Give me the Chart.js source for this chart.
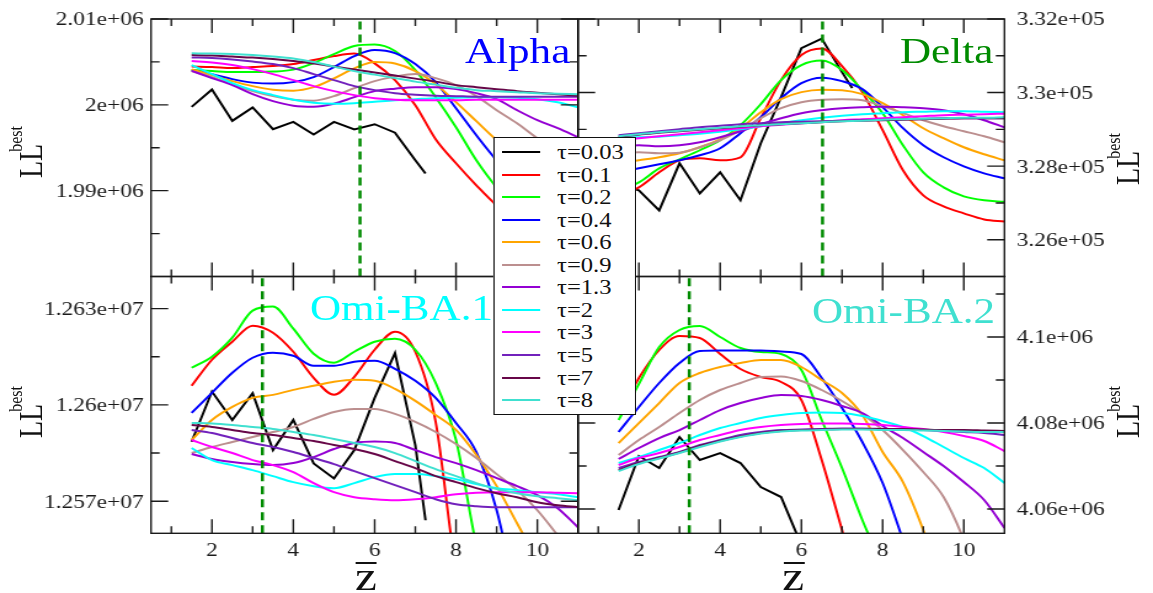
<!DOCTYPE html>
<html>
<head>
<meta charset="utf-8">
<script src="https://cdn.jsdelivr.net/npm/chart.js@4.4.1/dist/chart.umd.min.js"></script>
<style>
html,body{margin:0;padding:0;background:#fff;overflow:hidden;width:1153px;height:593px;}
#stage{position:absolute;left:0;top:0;width:937px;height:593px;transform:scaleX(1.23052);transform-origin:0 0;}
#stage canvas{position:absolute;left:0;top:0;}
.t{position:absolute;font-family:'Liberation Serif','Times New Roman',serif;white-space:nowrap;}
#legend{position:absolute;left:400.6px;top:137px;width:116.3px;height:278px;box-sizing:border-box;background:#fff;border-style:solid;border-color:#111;border-width:1.5px 1.2px;}
.lgLine{position:absolute;height:2px;}
.ytitle{position:absolute;font-family:'Liberation Serif','Times New Roman',serif;white-space:nowrap;line-height:28px;transform:translate(-50%,-50%) rotate(-90deg);color:#111;}
.bar{position:absolute;height:0;border-top:2px solid #111;}
</style>
</head>
<body>
<div id="stage">
  <canvas id="cTL" width="937" height="593"></canvas>
  <canvas id="cTR" width="937" height="593"></canvas>
  <canvas id="cBL" width="937" height="593"></canvas>
  <canvas id="cBR" width="937" height="593"></canvas>
</div>
<script>
// ---------------- data ----------------
const zGrid = [1.5, 2, 2.5, 3, 3.5, 4, 4.5, 5, 5.5, 6, 6.5, 7, 7.5, 8, 8.5, 9, 9.5, 10, 10.5, 11];
const xTickLabels = [2, 4, 6, 8, 10];
const xMinorTicks = [1, 3, 5, 7, 9];
const tauLabels = ['τ=0.03', 'τ=0.1', 'τ=0.2', 'τ=0.4', 'τ=0.6', 'τ=0.9', 'τ=1.3', 'τ=2', 'τ=3', 'τ=5', 'τ=7', 'τ=8'];
const tauColors = ['#000000', '#ff0000', '#00ff00', '#0000ff', '#ffa500', '#bc8f8f', '#9400d3', '#00ffff', '#ff00ff', '#7221bc', '#670748', '#40e0d0'];
const panelNames = ['Alpha', 'Delta', 'Omi-BA.1', 'Omi-BA.2'];

// Alpha
const alphaBlackZ = [1.5, 2, 2.5, 3, 3.5, 4, 4.5, 5, 5.5, 6, 6.5, 7, 7.25];
const alphaT003 = [1999760, 2001790, 1998130, 1999690, 1997160, 1998010, 1996540, 1998010, 1997130, 1997740, 1996750, 1993540, 1991990];
const alphaT01 = [2004455, 2004397, 2004280, 2004397, 2004514, 2004747, 2005214, 2005681, 2005973, 2004830, 2002879, 1999961, 1995992, 1993191, 1990623, 1988288, 1986537, 1984787, 1983269, 1982102];
const alphaT02 = [2004047, 2003930, 2003813, 2003813, 2003871, 2004105, 2004864, 2005914, 2006848, 2007023, 2006265, 2004047, 2000895, 1997393, 1993541, 1990389, 1988055, 1986304, 1985020, 1984203];
const alphaT04 = [2004047, 2003580, 2002996, 2002588, 2002471, 2002646, 2003230, 2004397, 2005681, 2006381, 2006031, 2004747, 2002646, 1999611, 1996460, 1993541, 1991206, 1989456, 1988055, 1987121];
const alphaT06 = [2004129, 2003463, 2002763, 2002179, 2001770, 2001654, 2002062, 2003078, 2004245, 2004981, 2004806, 2003930, 2002412, 2000311, 1998093, 1995876, 1993892, 1992374, 1991206, 1990273];
const alphaT09 = [2003930, 2003230, 2002412, 2001595, 2001012, 2000603, 2000487, 2001012, 2001946, 2002763, 2003288, 2003580, 2003113, 2002296, 2001012, 1999378, 1997860, 1996110, 1994708, 1993307];
const alphaT13 = [2003965, 2003113, 2002296, 2001245, 2000428, 1999903, 1999786, 2000136, 2000895, 2001595, 2001887, 2002062, 2002062, 2001829, 2001362, 2000662, 1999378, 1998210, 1997276, 1996227];
const alphaT2 = [2004631, 2003580, 2002529, 2001712, 2001129, 2000603, 2000253, 2000136, 2000195, 2000370, 2000545, 2000662, 2000778, 2000837, 2000895, 2000895, 2000837, 2000662, 2000311, 1999728];
const alphaT3 = [2005097, 2004922, 2004631, 2004164, 2003580, 2002879, 2002179, 2001595, 2001129, 2000778, 2000603, 2000545, 2000545, 2000545, 2000603, 2000603, 2000603, 2000603, 2000603, 2000603];
const alphaT5 = [2005529, 2005447, 2005272, 2005039, 2004747, 2004280, 2003580, 2002879, 2002179, 2001712, 2001362, 2001187, 2001070, 2001012, 2000953, 2000953, 2000953, 2000953, 2000953, 2000953];
const alphaT7 = [2005798, 2005740, 2005623, 2005506, 2005331, 2005097, 2004806, 2004455, 2004105, 2003755, 2003405, 2003054, 2002704, 2002296, 2002062, 2001829, 2001595, 2001420, 2001245, 2001070];
const alphaT8 = [2005996, 2005973, 2005914, 2005798, 2005623, 2005389, 2004981, 2004455, 2003930, 2003521, 2003113, 2002704, 2002354, 2002004, 2001712, 2001595, 2001479, 2001362, 2001304, 2001245];
const alphaYTicks = [1990000, 2000000, 2010000];
const alphaYMinor = [1985000, 1995000, 2005000];
const alphaMarkZ = 5.64;

// Delta
const deltaBlackZ = [1.5, 2, 2.5, 3, 3.5, 4, 4.5, 5, 5.5, 6, 6.5, 7, 7.25];
const deltaT003 = [327478, 327342, 326797, 328077, 327260, 327832, 327070, 328622, 329875, 331210, 331469, 330556, 330120];
const deltaT01 = [327206, 327424, 327832, 328159, 328214, 328159, 328241, 329303, 330338, 331019, 331196, 330720, 330012, 328977, 327887, 327206, 326906, 326716, 326552, 326498];
const deltaT02 = [327342, 327560, 327941, 328186, 328432, 328704, 329113, 329685, 330338, 330747, 330870, 330611, 330066, 329440, 328568, 327832, 327424, 327179, 327070, 327029];
const deltaT04 = [327832, 327941, 328050, 328159, 328295, 328486, 328895, 329331, 329848, 330257, 330406, 330311, 330093, 329603, 329031, 328568, 328241, 327996, 327805, 327669];
const deltaT06 = [328077, 328159, 328241, 328350, 328513, 328731, 329031, 329467, 329821, 330012, 330080, 330066, 329957, 329712, 329385, 329031, 328759, 328513, 328323, 328159];
const deltaT09 = [328350, 328377, 328350, 328364, 328513, 328704, 328977, 329303, 329576, 329739, 329807, 329821, 329794, 329630, 329440, 329249, 329085, 328949, 328813, 328650];
const deltaT13 = [328540, 328568, 328540, 328568, 328650, 328786, 328949, 329140, 329303, 329440, 329521, 329576, 329603, 329617, 329603, 329576, 329521, 329412, 329249, 329058];
const deltaT2 = [328786, 328786, 328799, 328840, 328881, 328936, 329004, 329085, 329167, 329249, 329317, 329371, 329412, 329440, 329467, 329480, 329494, 329494, 329480, 329467];
const deltaT3 = [328704, 328759, 328813, 328868, 328922, 328977, 329031, 329085, 329126, 329167, 329208, 329249, 329276, 329303, 329331, 329358, 329385, 329399, 329412, 329426];
const deltaT5 = [328840, 328895, 328949, 329004, 329058, 329099, 329140, 329167, 329194, 329208, 329222, 329235, 329249, 329262, 329276, 329290, 329303, 329303, 329303, 329303];
const deltaT7 = [328799, 328854, 328908, 328949, 328990, 329031, 329072, 329113, 329140, 329167, 329194, 329222, 329235, 329249, 329262, 329276, 329290, 329303, 329303, 329303];
const deltaT8 = [328813, 328868, 328922, 328963, 329004, 329045, 329085, 329113, 329140, 329167, 329194, 329222, 329235, 329262, 329276, 329290, 329303, 329317, 329317, 329331];
const deltaYTicks = [326000, 328000, 330000, 332000];
const deltaYMinor = [327000, 329000, 331000];
const deltaMarkZ = 6.52;

// Omi-BA.1
const ba1BlackZ = [1.5, 2, 2.5, 3, 3.5, 4, 4.5, 5, 5.5, 6, 6.5, 7, 7.25];
const ba1T003 = [12588531, 12604156, 12595313, 12603656, 12585938, 12595313, 12581781, 12577094, 12585938, 12602188, 12616156, 12587500, 12564063];
const ba1T01 = [12605938, 12614063, 12619688, 12624688, 12622500, 12616563, 12608438, 12603125, 12608750, 12617188, 12622813, 12616563, 12594688, 12548438, 12523438, 12507813, 12507813, 12507813, 12507813, 12507813];
const ba1T02 = [12611563, 12615000, 12620938, 12629375, 12630625, 12623750, 12615938, 12613125, 12616563, 12619688, 12620625, 12617188, 12606875, 12589063, 12556250, 12532813, 12507813, 12507813, 12507813, 12507813];
const ba1T04 = [12597500, 12603750, 12610000, 12614688, 12616250, 12615313, 12612188, 12612188, 12613438, 12613750, 12611250, 12607500, 12602188, 12594375, 12585313, 12567188, 12539063, 12514063, 12507813, 12507813];
const ba1T06 = [12589063, 12595313, 12599375, 12602188, 12603125, 12604688, 12605938, 12607188, 12607813, 12607500, 12605000, 12601250, 12596875, 12592188, 12584375, 12574688, 12563125, 12551563, 12539063, 12526563];
const ba1T09 = [12585000, 12586875, 12588438, 12590000, 12591563, 12593125, 12595625, 12597813, 12598750, 12598750, 12597188, 12594688, 12591563, 12587813, 12583438, 12578438, 12573438, 12567188, 12559375, 12551563];
const ba1T13 = [12584688, 12583125, 12582188, 12581563, 12581250, 12581875, 12583750, 12586250, 12588125, 12588594, 12588125, 12585938, 12583750, 12581875, 12579688, 12577188, 12574688, 12571875, 12567813, 12561875];
const ba1T2 = [12586563, 12582813, 12581250, 12579688, 12577813, 12575938, 12574688, 12574063, 12575625, 12577500, 12578438, 12578438, 12577813, 12576875, 12575313, 12574063, 12573438, 12572813, 12572188, 12571250];
const ba1T3 = [12589063, 12586875, 12585000, 12582813, 12581250, 12579063, 12575625, 12572813, 12571250, 12570625, 12570313, 12570625, 12571250, 12572188, 12572656, 12572813, 12572813, 12572813, 12572656, 12572500];
const ba1T5 = [12592188, 12591250, 12589688, 12588125, 12586875, 12585313, 12583438, 12581563, 12579375, 12577188, 12575000, 12572813, 12570625, 12569063, 12568438, 12568125, 12568125, 12568125, 12568125, 12568125];
const ba1T7 = [12593750, 12593125, 12592188, 12591250, 12590625, 12589688, 12588750, 12587500, 12586250, 12584688, 12582500, 12580313, 12577813, 12575938, 12574063, 12572500, 12571250, 12569688, 12568750, 12568125];
const ba1T8 = [12594375, 12594219, 12593750, 12593125, 12592500, 12591563, 12590625, 12589375, 12588125, 12586875, 12585000, 12582500, 12580000, 12577813, 12575625, 12573750, 12572500, 12571563, 12570938, 12570313];
const ba1YTicks = [12570000, 12600000, 12630000];
const ba1YMinor = [12585000, 12615000];
const ba1MarkZ = 3.24;

// Omi-BA.2
const ba2BlackZ = [1.5, 2, 2.5, 3, 3.5, 4, 4.5, 5, 5.5, 6];
const ba2T003 = [4059760, 4072320, 4069529, 4076740, 4071390, 4073018, 4070692, 4065110, 4062784, 4051619];
const ba2T01 = [4081857, 4090463, 4096976, 4100232, 4099767, 4096046, 4092557, 4090696, 4089533, 4085346, 4071390, 4055108, 4038826, 4027196, 4027196, 4027196, 4027196, 4027196, 4027196, 4027196];
const ba2T02 = [4080694, 4089068, 4097674, 4101628, 4102558, 4100000, 4097441, 4096511, 4096046, 4092324, 4080694, 4069529, 4057434, 4045804, 4027196, 4027196, 4027196, 4027196, 4027196, 4027196];
const ba2T04 = [4077903, 4083718, 4089300, 4093952, 4096743, 4096860, 4096860, 4096860, 4096627, 4096046, 4090463, 4083485, 4075577, 4066040, 4052782, 4038826, 4027196, 4027196, 4027196, 4027196];
const ba2T06 = [4075344, 4079996, 4084648, 4089300, 4091626, 4093022, 4093952, 4094650, 4094650, 4093022, 4089998, 4086974, 4081857, 4073251, 4066273, 4055108, 4041152, 4027196, 4027196, 4027196];
const ba2T09 = [4072553, 4076042, 4079066, 4082322, 4085346, 4087672, 4089300, 4090696, 4090812, 4089765, 4087672, 4085113, 4082090, 4078368, 4073716, 4068599, 4062784, 4052782, 4038826, 4027196];
const ba2T13 = [4071623, 4074181, 4076507, 4078368, 4080694, 4083020, 4084648, 4085811, 4086509, 4086276, 4085346, 4083950, 4082322, 4079298, 4076507, 4073251, 4069994, 4066273, 4062086, 4055573];
const ba2T2 = [4070692, 4072088, 4073716, 4075344, 4077205, 4078833, 4079996, 4081159, 4081857, 4082322, 4082439, 4082322, 4081624, 4080461, 4079066, 4076972, 4074414, 4071855, 4069529, 4066040];
const ba2T3 = [4070227, 4071855, 4073018, 4074414, 4076042, 4077205, 4078368, 4079066, 4079531, 4079763, 4079880, 4079880, 4079763, 4079531, 4079066, 4078600, 4077903, 4076972, 4075809, 4073483];
const ba2T5 = [4069529, 4070925, 4072088, 4073251, 4074879, 4076042, 4077205, 4077903, 4078368, 4078484, 4078600, 4078717, 4078717, 4078600, 4078484, 4078368, 4078135, 4077903, 4077670, 4077205];
const ba2T7 = [4069064, 4070692, 4071855, 4073134, 4074646, 4075809, 4076856, 4077670, 4078135, 4078368, 4078484, 4078600, 4078600, 4078600, 4078600, 4078484, 4078368, 4078368, 4078251, 4078135];
const ba2T8 = [4068831, 4070460, 4071739, 4073018, 4074414, 4075693, 4076740, 4077554, 4078019, 4078251, 4078368, 4078484, 4078484, 4078368, 4078368, 4078251, 4078135, 4078019, 4077903, 4077903];
const ba2YTicks = [4060000, 4080000, 4100000];
const ba2YMinor = [4070000, 4090000, 4110000];
const ba2MarkZ = 3.24;

// ---------------- drawing ----------------
const SERIF = "'Liberation Serif', 'Times New Roman', serif";
Chart.defaults.font.family = SERIF;

function fmtExp(v) {
  return Number(v).toExponential().replace(/e([+-])(\d)$/, (m, s, d) => 'e' + s + '0' + d);
}

// frame, inward ticks on all four sides, and tick labels placed with the chart's own scales
function axisPlugin(p) {
  return {
    id: 'axes' + p.key,
    afterDatasetsDraw(chart) {
      const ctx = chart.ctx, a = chart.chartArea, x = chart.scales.x, y = chart.scales.y;
      ctx.save();
      ctx.setLineDash([]);
      ctx.strokeStyle = '#1a1a1a';
      ctx.lineWidth = 1.4;
      ctx.beginPath();
      const vx = (v, len) => {
        const px = x.getPixelForValue(v);
        ctx.moveTo(px, a.top); ctx.lineTo(px, a.top + len);
        ctx.moveTo(px, a.bottom); ctx.lineTo(px, a.bottom - len);
      };
      const hy = (v, len) => {
        const py = y.getPixelForValue(v);
        ctx.moveTo(a.left, py); ctx.lineTo(a.left + len, py);
        ctx.moveTo(a.right, py); ctx.lineTo(a.right - len, py);
      };
      xTickLabels.forEach(v => vx(v, 14));
      xMinorTicks.forEach(v => vx(v, 7));
      p.yTicks.forEach(v => hy(v, 14));
      p.yMinor.forEach(v => hy(v, 7));
      ctx.stroke();
      ctx.strokeRect(a.left, a.top, a.right - a.left, a.bottom - a.top);

      ctx.font = '19px ' + SERIF;
      ctx.fillStyle = '#1a1a1a';
      ctx.textBaseline = 'alphabetic';
      p.yTicks.forEach(v => {
        const py = y.getPixelForValue(v) + 6.4;
        if (p.yPos === 'left') { ctx.textAlign = 'right'; ctx.fillText(fmtExp(v), a.left - 6, py); }
        else { ctx.textAlign = 'left'; ctx.fillText(fmtExp(v), a.right + 10, py); }
      });
      if (p.showX) {
        ctx.textAlign = 'center';
        xTickLabels.forEach(v => ctx.fillText(String(v), x.getPixelForValue(v), a.bottom + 23));
      }
      ctx.restore();
    }
  };
}

function makePanel(p) {
  const datasets = p.series.map((vals, i) => {
    const xs = i === 0 ? p.blackZ : zGrid;
    return {
      label: tauLabels[i],
      data: xs.map((z, k) => ({ x: z, y: vals[k] })),
      borderColor: tauColors[i],
      backgroundColor: tauColors[i],
      borderWidth: 2,
      pointRadius: 0,
      fill: false,
      tension: i === 0 ? 0 : 0.4,
      cubicInterpolationMode: i === 0 ? 'default' : 'monotone',
      order: 30 - i
    };
  });
  datasets.push({
    label: 'marker',
    data: [{ x: p.markZ, y: p.yMin }, { x: p.markZ, y: p.yMax }],
    borderColor: '#008b00',
    borderWidth: 2.5,
    borderDash: [8, 5],
    pointRadius: 0,
    fill: false,
    order: 0
  });
  new Chart(document.getElementById(p.canvas), {
    type: 'line',
    data: { datasets },
    options: {
      responsive: false,
      animation: false,
      devicePixelRatio: 1,
      layout: { padding: p.padding },
      plugins: { legend: { display: false }, tooltip: { enabled: false } },
      scales: {
        x: { type: 'linear', min: 0.5, max: 11, display: false },
        y: { type: 'linear', min: p.yMin, max: p.yMax, display: false }
      }
    },
    plugins: [axisPlugin(p)]
  });
}

makePanel({ key: 'TL', canvas: 'cTL', series: [alphaT003, alphaT01, alphaT02, alphaT04, alphaT06, alphaT09, alphaT13, alphaT2, alphaT3, alphaT5, alphaT7, alphaT8],
  blackZ: alphaBlackZ, markZ: alphaMarkZ, yMin: 1980000, yMax: 2010000, yTicks: alphaYTicks, yMinor: alphaYMinor,
  yPos: 'left', showX: false, padding: { left: 122.7, right: 467.3, top: 19, bottom: 316.5 } });
makePanel({ key: 'TR', canvas: 'cTR', series: [deltaT003, deltaT01, deltaT02, deltaT04, deltaT06, deltaT09, deltaT13, deltaT2, deltaT3, deltaT5, deltaT7, deltaT8],
  blackZ: deltaBlackZ, markZ: deltaMarkZ, yMin: 325000, yMax: 332000, yTicks: deltaYTicks, yMinor: deltaYMinor,
  yPos: 'right', showX: false, padding: { left: 469.7, right: 120.7, top: 19, bottom: 316.5 } });
makePanel({ key: 'BL', canvas: 'cBL', series: [ba1T003, ba1T01, ba1T02, ba1T04, ba1T06, ba1T09, ba1T13, ba1T2, ba1T3, ba1T5, ba1T7, ba1T8],
  blackZ: ba1BlackZ, markZ: ba1MarkZ, yMin: 12560000, yMax: 12640000, yTicks: ba1YTicks, yMinor: ba1YMinor,
  yPos: 'left', showX: true, padding: { left: 122.7, right: 467.3, top: 276.5, bottom: 59.7 } });
makePanel({ key: 'BR', canvas: 'cBR', series: [ba2T003, ba2T01, ba2T02, ba2T04, ba2T06, ba2T09, ba2T13, ba2T2, ba2T3, ba2T5, ba2T7, ba2T8],
  blackZ: ba2BlackZ, markZ: ba2MarkZ, yMin: 4054350, yMax: 4114070, yTicks: ba2YTicks, yMinor: ba2YMinor,
  yPos: 'right', showX: true, padding: { left: 469.7, right: 120.7, top: 276.5, bottom: 59.7 } });

// ---------------- text overlays ----------------
const stage = document.getElementById('stage');
function addDiv(cls, css, html) {
  const d = document.createElement('div');
  d.className = cls;
  Object.assign(d.style, css);
  if (html !== undefined) d.innerHTML = html;
  stage.appendChild(d);
  return d;
}
const nameSpecs = [
  { left: 377.9, top: 34, color: '#0000ff' },
  { left: 731.4, top: 34, color: '#008b00' },
  { left: 251.9, top: 290.7, color: '#00ffff' },
  { left: 659.9, top: 293.7, color: '#40e0d0' }
];
panelNames.forEach((n, i) => {
  const s = nameSpecs[i];
  const d = addDiv('t', { left: s.left + 'px', top: s.top + 'px', fontSize: '35px', lineHeight: '35px', color: s.color });
  d.textContent = n;
});
[[27, 152], [918.5, 159], [27, 412], [918.5, 412]].forEach(([cx, cy]) => {
  addDiv('ytitle', { left: cx + 'px', top: cy + 'px' },
    '<span style="font-size:28px">LL</span><span style="font-size:16px;position:relative;top:-16px;margin-left:-8px">best</span>');
});
[[297.4, 288.5], [644.5, 636.6]].forEach(([cx, bl]) => {
  const d = addDiv('t', { left: (cx - 20) + 'px', top: '556.5px', width: '40px', textAlign: 'center', fontSize: '40px', lineHeight: '40px', color: '#111' });
  d.textContent = 'z';
  addDiv('bar', { left: bl + 'px', top: '562px', width: '17.5px' });
});
const lg = document.createElement('div');
lg.id = 'legend';
stage.appendChild(lg);
tauLabels.forEach((lab, i) => {
  const cy = 152 + i * 22.55;
  addDiv('lgLine', { left: '408.1px', width: '30.8px', top: (cy - 1) + 'px', background: tauColors[i] });
  const d = addDiv('t', { left: '452.7px', top: (cy - 10) + 'px', fontSize: '20px', lineHeight: '20px', color: '#111' });
  d.textContent = lab;
});
</script>
</body>
</html>
